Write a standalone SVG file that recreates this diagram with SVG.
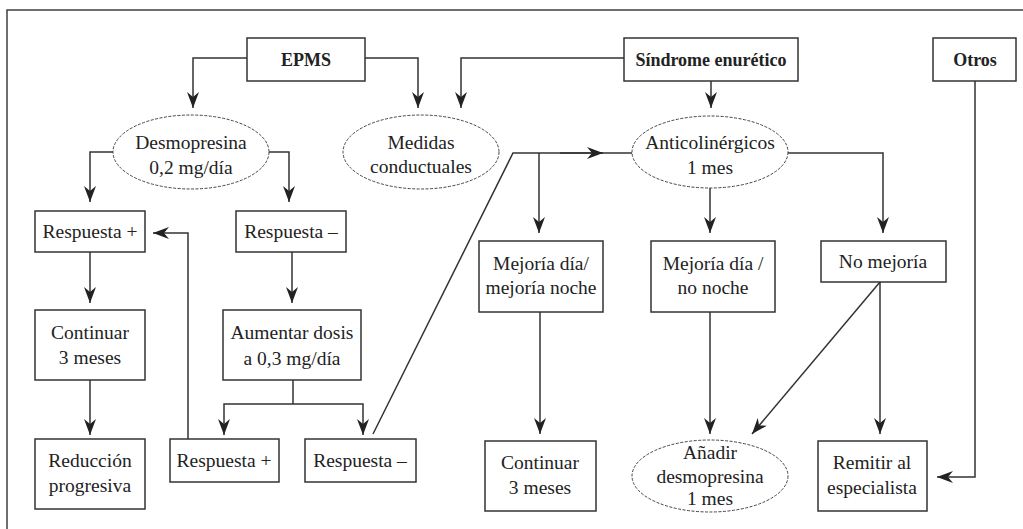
<svg xmlns="http://www.w3.org/2000/svg" width="1023" height="529" viewBox="0 0 1023 529">
<style>
.box{fill:#fff;stroke:#333;stroke-width:1.5}
.ell{fill:#fff;stroke:#444;stroke-width:1;stroke-dasharray:3 1.5}
.t{font-family:"Liberation Serif","DejaVu Serif",serif;font-size:19.5px;fill:#222;text-anchor:middle}
.b{font-weight:bold;font-size:18px}
.c{fill:none;stroke:#333;stroke-width:1.5}
.ca{fill:none;stroke:#333;stroke-width:1.5;marker-end:url(#ah)}
</style>
<defs>
<marker id="ah" markerUnits="userSpaceOnUse" markerWidth="17" markerHeight="12" refX="16" refY="6" orient="auto">
<path d="M0,0 L16,6 L0,12 L5,6 z" fill="#222"/>
</marker>
</defs>
<rect x="0" y="0" width="1023" height="529" fill="#fff"/>
<rect x="7" y="10" width="1040" height="540" fill="none" stroke="#333" stroke-width="1.4"/>

<g id="connectors">
<path class="ca" d="M247,58 H193 V108"/>
<path class="ca" d="M365,58 H418 V108"/>
<path class="ca" d="M624,58 H461 V108"/>
<path class="ca" d="M711,81 V108"/>
<path class="ca" d="M113,152 H90 V202"/>
<path class="ca" d="M268,152 H289 V202"/>
<path class="ca" d="M90,252 V303"/>
<path class="ca" d="M90,380 V435"/>
<path class="ca" d="M188,439 V233 H153"/>
<path class="ca" d="M292,252 V303"/>
<path class="c" d="M293,380 V404"/>
<path class="ca" d="M293,404 H224 V435"/>
<path class="ca" d="M293,404 H363 V435"/>
<path class="c" d="M373,434 L513,153 H632"/>
<path class="ca" d="M560,153 H603"/>
<path class="ca" d="M539,153 V233"/>
<path class="ca" d="M787,153 H883 V233"/>
<path class="ca" d="M710,188 V233"/>
<path class="ca" d="M540,312 V434"/>
<path class="ca" d="M710,312 V434"/>
<path class="ca" d="M880,282 L752,434"/>
<path class="ca" d="M880,282 V434"/>
<path class="ca" d="M975,81 V477 H937"/>
</g>

<g id="epms"><rect class="box" x="247" y="38" width="118" height="43"/><text class="t b" x="306" y="66">EPMS</text></g>
<g id="sindrome"><rect class="box" x="624" y="38" width="174" height="43"/><text class="t b" x="711" y="66">Síndrome enurético</text></g>
<g id="otros"><rect class="box" x="933" y="38" width="83" height="43"/><text class="t b" x="975" y="66">Otros</text></g>

<g id="desmopresina"><ellipse class="ell" cx="191" cy="152" rx="78" ry="37"/><text class="t" x="191" y="149">Desmopresina</text><text class="t" x="191" y="174">0,2 mg/día</text></g>
<g id="medidas"><ellipse class="ell" cx="421" cy="152" rx="78" ry="37"/><text class="t" x="421" y="149">Medidas</text><text class="t" x="421" y="173">conductuales</text></g>
<g id="anticolinergicos"><ellipse class="ell" cx="710" cy="152" rx="78" ry="36"/><text class="t" x="710" y="149">Anticolinérgicos</text><text class="t" x="710" y="174">1 mes</text></g>

<g id="resp-pos-1"><rect class="box" x="35" y="211" width="110" height="41"/><text class="t" x="90" y="238">Respuesta +</text></g>
<g id="resp-neg-1"><rect class="box" x="236" y="211" width="110" height="41"/><text class="t" x="291" y="238">Respuesta –</text></g>
<g id="continuar-1"><rect class="box" x="35" y="310" width="110" height="70"/><text class="t" x="90" y="339">Continuar</text><text class="t" x="90" y="364">3 meses</text></g>
<g id="reduccion"><rect class="box" x="35" y="439" width="110" height="70"/><text class="t" x="90" y="467">Reducción</text><text class="t" x="90" y="492">progresiva</text></g>
<g id="aumentar"><rect class="box" x="223" y="310" width="138" height="70"/><text class="t" x="292" y="339">Aumentar dosis</text><text class="t" x="292" y="365">a 0,3 mg/día</text></g>
<g id="resp-pos-2"><rect class="box" x="170" y="439" width="109" height="43"/><text class="t" x="224" y="467">Respuesta +</text></g>
<g id="resp-neg-2"><rect class="box" x="305" y="439" width="111" height="43"/><text class="t" x="360" y="467">Respuesta –</text></g>

<g id="mejoria-1"><rect class="box" x="479" y="241" width="124" height="71"/><text class="t" x="541" y="270">Mejoría día/</text><text class="t" x="541" y="294">mejoría noche</text></g>
<g id="mejoria-2"><rect class="box" x="651" y="241" width="124" height="71"/><text class="t" x="713" y="270">Mejoría día /</text><text class="t" x="713" y="294">no noche</text></g>
<g id="no-mejoria"><rect class="box" x="821" y="241" width="125" height="41"/><text class="t" x="883" y="268">No mejoría</text></g>

<g id="continuar-2"><rect class="box" x="485" y="441" width="111" height="70"/><text class="t" x="540" y="469">Continuar</text><text class="t" x="540" y="494">3 meses</text></g>
<g id="anadir"><ellipse class="ell" cx="710" cy="476" rx="78" ry="36"/><text class="t" x="710" y="459">Añadir</text><text class="t" x="710" y="483">desmopresina</text><text class="t" x="710" y="505">1 mes</text></g>
<g id="remitir"><rect class="box" x="818" y="441" width="109" height="70"/><text class="t" x="872" y="469">Remitir al</text><text class="t" x="872" y="494">especialista</text></g>
</svg>
